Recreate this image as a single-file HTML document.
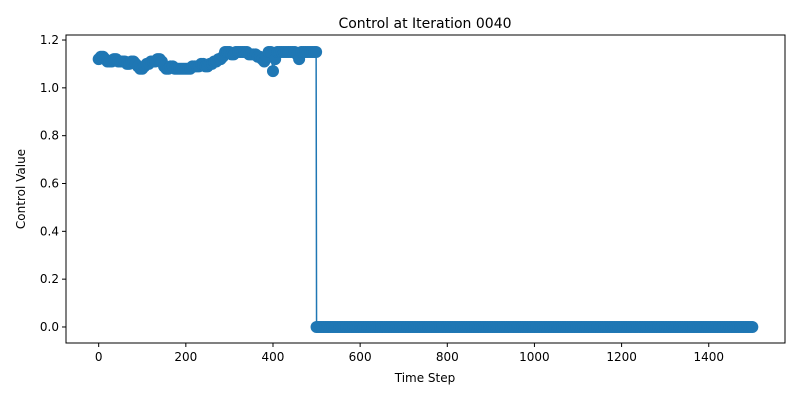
<!DOCTYPE html>
<html><head><meta charset="utf-8"><style>
body{margin:0;background:#fff;font-family:"Liberation Sans","DejaVu Sans",sans-serif}
</style></head><body>
<svg id="chart" width="800" height="400" xmlns="http://www.w3.org/2000/svg" font-family="DejaVu Sans, Liberation Sans, sans-serif">
<rect width="800" height="400" fill="#fff"/>
<text x="425" y="28" font-size="14" text-anchor="middle">Control at Iteration 0040</text>
<g id="plot"></g>
<g id="axes"></g>
<text x="425" y="382" font-size="12" text-anchor="middle">Time Step</text>
<text transform="translate(25,189) rotate(-90)" font-size="12" text-anchor="middle">Control Value</text>
</svg>
<script>
const earlySteps=[0,5,10,15,20,25,30,35,40,45,50,55,60,65,70,75,80,85,90,95,100,105,110,115,120,125,130,135,140,145,150,155,160,165,170,175,180,185,190,195,200,205,210,215,220,225,230,235,240,245,250,255,260,265,270,275,280,285,290,295,300,305,310,315,320,325,330,335,340,345,350,355,360,365,370,375,380,385,390,395,400,405,410,415,420,425,430,435,440,445,450,455,460,465,470,475,480,485,490,495,499];
const earlyValues=[1.12,1.13,1.13,1.12,1.11,1.11,1.11,1.12,1.12,1.11,1.11,1.11,1.11,1.10,1.10,1.11,1.11,1.10,1.09,1.08,1.08,1.09,1.10,1.10,1.11,1.11,1.11,1.12,1.12,1.11,1.09,1.08,1.08,1.09,1.09,1.08,1.08,1.08,1.08,1.08,1.08,1.08,1.08,1.09,1.09,1.09,1.09,1.10,1.10,1.09,1.09,1.10,1.10,1.11,1.11,1.12,1.12,1.13,1.15,1.15,1.15,1.14,1.14,1.15,1.15,1.15,1.15,1.15,1.15,1.14,1.14,1.14,1.14,1.13,1.13,1.12,1.11,1.13,1.15,1.15,1.07,1.12,1.15,1.15,1.15,1.15,1.15,1.15,1.15,1.15,1.15,1.14,1.12,1.15,1.15,1.15,1.15,1.15,1.15,1.15,1.15];
const lateStart=500, lateEnd=1500, lateStep=4, lateValue=0.0;
const xTicks=[0,200,400,600,800,1000,1200,1400];
const yTicks=[0.0,0.2,0.4,0.6,0.8,1.0,1.2];
const L=66,R=785,T=35,B=343, xmin=-75,xmax=1575,ymin=-0.067,ymax=1.221;
const X=v=>L+(v-xmin)/(xmax-xmin)*(R-L);
const Y=v=>B-(v-ymin)/(ymax-ymin)*(B-T);
const steps=earlySteps.slice(), vals=earlyValues.slice();
for(let s=lateStart;s<=lateEnd;s+=lateStep){steps.push(s);vals.push(lateValue);}
const ns="http://www.w3.org/2000/svg";
const plot=document.getElementById('plot'), axes=document.getElementById('axes');
function mk(tag,attrs,parent){const e=document.createElementNS(ns,tag);for(const k in attrs)e.setAttribute(k,attrs[k]);parent.appendChild(e);return e;}
const line=mk('polyline',{points:steps.map((s,i)=>X(s)+','+Y(vals[i])).join(' '),fill:'none',stroke:'#1f77b4','stroke-width':1.5},plot);


steps.forEach((s,i)=>{const c=mk('circle',{cx:X(s),cy:Y(vals[i]),r:6,fill:'#1f77b4'},plot);

});
const frame=mk('rect',{x:L,y:T,width:R-L,height:B-T,fill:'none',stroke:'#000','stroke-width':1},axes);


xTicks.forEach(v=>{mk('line',{x1:X(v),x2:X(v),y1:B,y2:B+4,stroke:'#000'},axes);
const t=mk('text',{x:X(v),y:B+18,'font-size':12,'text-anchor':'middle'},axes);t.textContent=v;

});
yTicks.forEach(v=>{mk('line',{x1:L-4,x2:L,y1:Y(v),y2:Y(v),stroke:'#000'},axes);
const t=mk('text',{x:L-7,y:Y(v)+4,'font-size':12,'text-anchor':'end'},axes);t.textContent=v.toFixed(1);

});
</script>
</body></html>
